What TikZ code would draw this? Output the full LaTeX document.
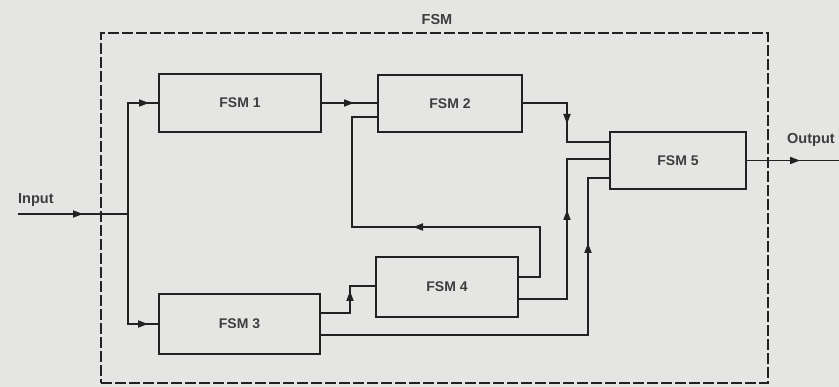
\documentclass[tikz,border=0pt]{standalone}
\usepackage{fontspec}
\setmainfont{Liberation Sans}
\usetikzlibrary{decorations.markings,arrows.meta}
\definecolor{bg}{RGB}{229,229,227}
\definecolor{ink}{RGB}{34,34,34}
\definecolor{txt}{RGB}{62,62,62}
\begin{document}
\begin{tikzpicture}[x=1pt,y=-1pt,
  box/.style={draw=ink,line width=2pt,inner sep=0pt,font=\fontsize{14}{17}\selectfont\bfseries,text=txt},
  wire/.style={draw=ink,line width=1.8pt},
  tipat/.style={postaction={decorate},decoration={markings,mark=at position #1 with {\arrow{Triangle[length=10pt,width=7pt]}}}},
  frame/.style={draw=ink,line width=2.8pt,dash pattern=on 11pt off 3pt,inner sep=0pt},
  lbl/.style={font=\fontsize{14.5}{17}\selectfont\bfseries,text=txt,inner sep=0pt}]
\fill[bg] (0,0) rectangle (839,387);
\useasboundingbox (0,0) rectangle (839,387);
% outer dashed frame
\node[frame,minimum width=667pt,minimum height=350pt] (frame) at (434.5,208) {};
\node[lbl] (ftitle) at (437,20) {FSM};
% machines
\node[box,minimum width=162pt,minimum height=58pt] (f1) at (240,103) {FSM 1};
\node[box,minimum width=144pt,minimum height=57pt] (f2) at (450,103.5) {FSM 2};
\node[box,minimum width=136pt,minimum height=57pt] (f5) at (678,160.5) {FSM 5};
\node[box,minimum width=142pt,minimum height=60pt] (f4) at (447,287) {FSM 4};
\node[box,minimum width=161pt,minimum height=60pt] (f3) at (239.5,324) {FSM 3};
% input / output
\coordinate (in) at (18,214);
\coordinate (j) at (128,214);
\coordinate (out) at (839,160.5);
\node[lbl,anchor=south west] (inl) at (18,207) {Input};
\node[lbl,anchor=south west] (outl) at (787,147) {Output};
% connectors
\draw[wire,tipat=65pt] (in) -- (j);
\draw[wire,tipat=132pt] (j) |- (f1.west);
\draw[wire,tipat=130pt] (j) |- (f3.west);
\draw[wire,tipat=32pt] (f1.east) -- (f1.east -| f2.west);
\draw[wire,tipat=198pt] (f4.east |- 0,277) -- (540,277) -- (540,227) -- (352,227) -- (352,117) -- (f2.west |- 0,117);
\draw[wire,tipat=65pt] (f2.east |- 0,103) -- (567,103) -- (567,142) -- (f5.west |- 0,142);
\draw[wire,tipat=137pt] (f4.east |- 0,299) -- (567,299) -- (567,159) -- (f5.west |- 0,159);
\draw[wire,tipat=359pt] (f3.east |- 0,335) -- (588,335) -- (588,178) -- (f5.west |- 0,178);
\draw[wire,tipat=51pt] (f3.east |- 0,313) -- (350,313) -- (350,286) -- (f4.west |- 0,286);
\draw[wire,tipat=53pt] (f5.east) -- (out);
\end{tikzpicture}
\end{document}
